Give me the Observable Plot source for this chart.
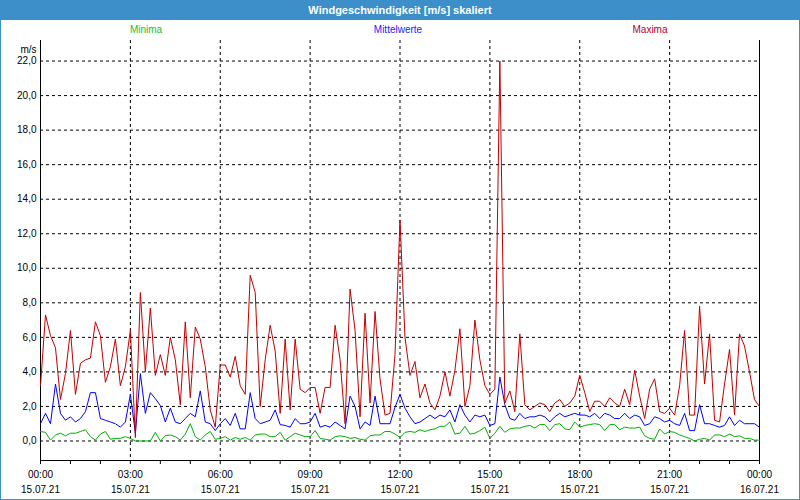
<!DOCTYPE html>
<html><head><meta charset="utf-8">
<script src="https://cdn.jsdelivr.net/npm/d3@7"></script>
<script src="https://cdn.jsdelivr.net/npm/@observablehq/plot@0.6"></script>
<style>
html,body{margin:0;padding:0;background:#fff;}
#wrap{position:relative;width:800px;height:500px;overflow:hidden;font-family:"Liberation Sans",Arial,sans-serif;background:#fff;}
#title{position:absolute;left:0;top:0;width:800px;height:20px;background:#3c8fc8;color:#fff;font-weight:bold;font-size:11px;text-align:center;line-height:20px;}
.leg{position:absolute;top:25px;font-size:10px;line-height:10px;transform:translateX(-50%);white-space:nowrap;}
#chart{position:absolute;left:0;top:20px;}
#border{position:absolute;left:0;top:0;width:800px;height:500px;box-sizing:border-box;border:1px solid #3c8fc8;pointer-events:none;}
</style></head>
<body>
<div id="wrap">
  <div id="chart"></div>
  <div id="title">Windgeschwindigkeit [m/s] skaliert</div>
  <div class="leg" style="left:146px;color:#00c83c">Minima</div>
  <div class="leg" style="left:398px;color:#1a1aff">Mittelwerte</div>
  <div class="leg" style="left:650px;color:#b8002e">Maxima</div>
  <div id="border"></div>
</div>
<script>
// 10-minute values, 15.07.21 00:00 .. 16.07.21 00:00
const maxima = [3.2,7.3,6.1,5.4,2.4,3.9,6.4,2.7,4.5,4.7,4.8,6.9,6.1,3.4,4.3,5.9,3.2,4.3,6.4,0.2,
8.6,4.0,7.7,3.8,5.0,3.8,6.0,4.7,2.1,6.9,2.5,6.6,5.9,4.3,1.8,0.8,4.4,4.4,3.7,4.9,
3.2,2.7,9.6,8.6,2.0,4.7,6.7,5.2,1.6,5.9,1.8,5.9,3.0,2.8,3.1,3.1,1.6,3.1,3.1,6.7,
4.7,1.0,8.8,6.4,1.4,7.4,2.2,7.5,3.6,1.5,1.6,5.0,12.8,6.0,3.8,4.6,2.5,3.3,2.2,1.8,
2.6,4.0,2.6,4.1,6.5,2.0,3.2,7.0,4.7,3.2,2.7,3.0,22.0,2.2,2.9,1.7,6.2,2.1,1.8,2.0,
2.2,2.1,1.7,2.2,2.4,2.0,2.2,2.6,3.8,2.8,1.7,2.3,2.3,2.0,2.5,2.2,2.0,3.0,2.1,4.1,
2.6,1.3,3.0,3.6,1.7,1.6,1.9,1.5,3.2,6.4,1.5,1.5,7.8,3.3,6.2,1.2,1.1,3.3,5.3,1.5,
6.2,5.5,4.0,2.4,2.0];
const mittelwerte = [1.0,1.6,1.0,3.3,1.6,1.2,1.4,1.1,1.3,1.7,2.8,2.8,1.3,1.2,1.1,1.0,0.8,1.1,2.7,0.45,
3.9,1.6,2.8,2.45,2.05,1.1,1.9,1.1,1.0,1.3,1.6,1.4,2.9,1.1,1.0,0.6,1.0,1.3,0.9,1.6,
0.7,0.7,2.8,1.3,1.0,1.1,1.2,1.8,0.95,0.9,0.8,1.3,1.0,1.0,1.1,1.6,0.8,0.9,0.8,1.1,
0.9,0.7,2.6,2.0,0.7,1.1,0.9,2.6,1.0,1.0,1.0,1.95,2.7,1.9,1.4,1.0,1.1,1.3,1.5,1.3,
1.5,1.4,1.8,1.1,2.1,1.5,1.1,1.5,1.4,1.5,0.9,1.0,3.7,2.1,1.3,1.2,1.6,1.3,1.4,1.4,
1.5,1.4,1.1,1.4,1.6,1.4,1.5,1.6,1.5,1.5,1.4,1.6,1.3,1.6,1.5,1.3,1.3,1.6,1.3,1.5,
1.4,0.9,1.0,1.4,1.3,1.1,1.2,1.0,0.9,1.6,0.6,0.6,2.1,1.0,1.0,0.9,0.8,0.9,1.4,0.9,
1.2,1.0,1.0,1.0,0.8];
const minima = [0.55,0.5,0.05,0.35,0.45,0.3,0.45,0.45,0.55,0.65,0.25,0.05,0.4,0.55,0.1,0.15,0.15,0.25,0.15,0.0,
0.0,0.0,0.0,0.5,0.0,0.3,0.35,0.25,0.05,0.4,1.0,0.25,0.05,0.35,0.55,0.1,0.15,0.25,0.05,0.2,
0.1,0.2,0.05,0.35,0.4,0.4,0.25,0.25,0.5,0.05,0.25,0.45,0.35,0.25,0.25,0.6,0.15,0.1,0.05,0.25,
0.3,0.25,0.15,0.2,0.1,0.05,0.3,0.35,0.35,0.55,0.55,0.4,0.2,0.5,0.55,0.5,0.65,0.55,0.65,0.7,
0.85,0.85,1.1,0.4,0.45,0.85,0.4,0.45,0.6,0.8,0.15,0.45,0.85,0.5,0.7,0.75,0.75,0.85,0.9,0.75,
0.95,0.95,0.6,0.95,1.0,0.7,0.65,1.1,0.8,0.9,0.95,1.0,0.95,0.6,0.95,0.95,0.65,0.8,0.75,0.75,
0.8,0.3,0.15,0.1,0.7,0.4,0.55,0.5,0.35,0.25,0.15,0.0,0.1,0.15,0.05,0.35,0.35,0.25,0.4,0.25,
0.3,0.15,0.15,0.05,0.05];
const yTicks = [0,2,4,6,8,10,12,14,16,18,20,22];
const yDomain = [-1.13, 23.19];
const t0 = new Date(Date.UTC(2021, 6, 15, 0, 0));
const t1 = new Date(Date.UTC(2021, 6, 16, 0, 0));
const stepMs = 10 * 60 * 1000;

const rows = maxima.map((v, i) => ({
  time: new Date(+t0 + i * stepMs),
  max: v, mean: mittelwerte[i], min: minima[i]
}));
const xHours = d3.utcHour.range(t0, new Date(+t1 + 1));
const xMajor = d3.utcHour.every(3).range(t0, new Date(+t1 + 1));
const xInner = xMajor.filter(d => +d !== +t0 && +d !== +t1);

const chart = Plot.plot({
  width: 800, height: 480,
  marginLeft: 40, marginRight: 41, marginTop: 20, marginBottom: 40,
  style: {fontFamily: "'Liberation Sans', Arial, sans-serif", fontSize: "10px", color: "#000", background: "transparent", overflow: "visible"},
  x: {type: "utc", domain: [t0, t1]},
  y: {domain: yDomain},
  marks: [
    Plot.gridY(yTicks, {stroke: "#000", strokeOpacity: 1, strokeDasharray: "3,3"}),
    Plot.gridX(xInner, {stroke: "#000", strokeOpacity: 1, strokeDasharray: "3,3"}),
    Plot.axisY(yTicks, {tickSize: 0, tickPadding: 4, tickFormat: d => d.toFixed(1).replace(".", ","), label: null}),
    Plot.axisX(xHours, {tickSize: 4, tickFormat: () => "", label: null}),
    Plot.axisX(xMajor, {tickSize: 0, tickPadding: 10, tickFormat: d3.utcFormat("%H:%M"), label: null}),
    Plot.axisX(xMajor, {tickSize: 0, tickPadding: 25, tickFormat: d3.utcFormat("%d.%m.%y"), label: null}),
    Plot.ruleX([t0, t1], {stroke: "#000"}),
    Plot.ruleY([yDomain[0]], {stroke: "#000"}),
    Plot.line(rows, {x: "time", y: "min", stroke: "#00b000", strokeWidth: 1}),
    Plot.line(rows, {x: "time", y: "mean", stroke: "#0000ff", strokeWidth: 1}),
    Plot.line(rows, {x: "time", y: "max", stroke: "#c00000", strokeWidth: 1}),
    Plot.text(["m/s"], {frameAnchor: "top-left", dx: -4, dy: 5, textAnchor: "end", fill: "#000"})
  ]
});
document.getElementById("chart").appendChild(chart);
</script>
</body></html>
